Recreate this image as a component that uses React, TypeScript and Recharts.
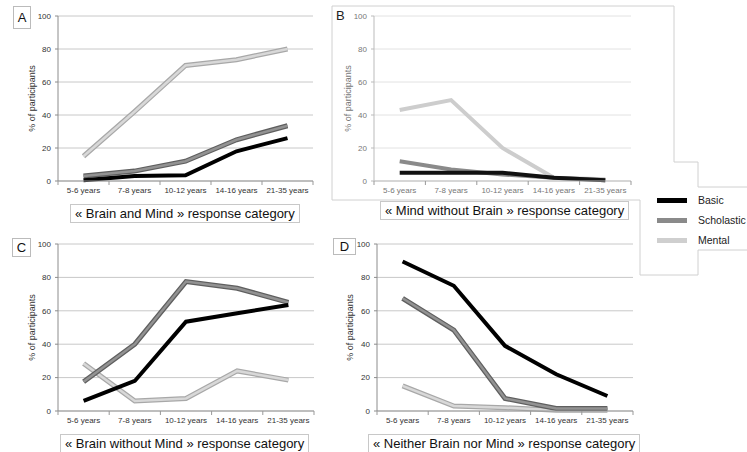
import React from "react";
import { LineChart, Line, XAxis, YAxis, CartesianGrid } from "recharts";

const ageGroups = ["5-6 years", "7-8 years", "10-12 years", "14-16 years", "21-35 years"];

// A: Brain and Mind
const brainMindBasic = [0.5, 3, 3.5, 18, 26];
const brainMindScholastic = [3, 6, 12, 25, 33.5];
const brainMindMental = [15, 42, 70, 73.5, 80];

// B: Mind without Brain
const mindOnlyBasic = [5, 5, 5, 2, 0.5];
const mindOnlyScholastic = [12, 7, 4, 2, 0.5];
const mindOnlyMental = [43, 49, 20, 2, 1];

// C: Brain without Mind
const brainOnlyBasic = [6, 18, 53.5, 58.5, 63.5];
const brainOnlyScholastic = [17.5, 40, 77.5, 73.5, 65];
const brainOnlyMental = [28.5, 6, 7.5, 24, 18.5];

// D: Neither Brain nor Mind
const neitherBasic = [89.5, 75, 39, 22, 9];
const neitherScholastic = [67.5, 48.5, 7.5, 1.5, 1.5];
const neitherMental = [15, 3, 2, 0.5, 0.5];

const yTicks = [0, 20, 40, 60, 80, 100];

const FONT = "'Liberation Sans', Arial, sans-serif";

const toRows = (basic: number[], scholastic: number[], mental: number[]) =>
  ageGroups.map((age, i) => ({ age, basic: basic[i], scholastic: scholastic[i], mental: mental[i] }));

function AgeTick(props: any) {
  const { x, y, payload, index, bw, color } = props;
  return (
    <g>
      <line x1={x - bw / 2} x2={x - bw / 2} y1={y - 6} y2={y - 2} stroke="#999" />
      {index === 4 && <line x1={x + bw / 2} x2={x + bw / 2} y1={y - 6} y2={y - 2} stroke="#999" />}
      <text x={x} y={y} dy="0.71em" textAnchor="middle" fontSize={8} fill={color} fontFamily={FONT}>
        {payload.value}
      </text>
    </g>
  );
}

type PanelProps = {
  data: any[];
  left: number;
  top: number;
  width: number;
  yw: number;
  right: number;
  bottom: number;
  labelX: number;
  faded?: boolean;
};

function Panel({ data, left, top, width, yw, right, bottom, labelX, faded }: PanelProps) {
  const bw = (width - yw - right) / 5;
  const text = faded ? "#777" : "#333";
  const grid = faded ? "#e2e2e2" : "#c8c8c8";
  return (
    <div style={{ position: "absolute", left, top }}>
      <LineChart width={width} height={205} data={data} margin={{ top: 16, right, bottom, left: 0 }}>
        <CartesianGrid vertical={false} stroke={grid} />
        <XAxis
          dataKey="age"
          interval={0}
          padding={{ left: bw / 2, right: bw / 2 }}
          height={20}
          tickSize={4}
          tickMargin={2}
          tickLine={false}
          stroke={faded ? "#bbb" : "#999"}
          tick={(p: any) => <AgeTick {...p} bw={bw} color={text} />}
        />
        <YAxis
          width={yw}
          domain={[0, 100]}
          ticks={yTicks}
          tickSize={3}
          tickMargin={4}
          stroke={faded ? "#bbb" : "#8c8c8c"}
          tick={{ fontSize: 8, fill: text, fontFamily: FONT }}
          label={{
            value: "% of participants",
            angle: -90,
            position: "insideLeft",
            offset: labelX,
            style: { textAnchor: "middle", fontSize: 9, fill: text, fontFamily: FONT },
          }}
        />
        {faded ? (
          [
            <Line key="m" dataKey="mental" stroke="#cdcdcd" strokeWidth={4} dot={false} isAnimationActive={false} />,
            <Line key="s" dataKey="scholastic" stroke="#8a8a8a" strokeWidth={4} dot={false} isAnimationActive={false} />,
            <Line key="b" dataKey="basic" stroke="#111" strokeWidth={4} dot={false} isAnimationActive={false} />,
          ]
        ) : (
          [
            <Line key="m1" dataKey="mental" stroke="#a8a8a8" strokeWidth={5} dot={false} isAnimationActive={false} />,
            <Line key="m2" dataKey="mental" stroke="#d8d8d8" strokeWidth={2.5} dot={false} isAnimationActive={false} />,
            <Line key="s1" dataKey="scholastic" stroke="#5f5f5f" strokeWidth={5} dot={false} isAnimationActive={false} />,
            <Line key="s2" dataKey="scholastic" stroke="#929292" strokeWidth={2.5} dot={false} isAnimationActive={false} />,
            <Line key="b" dataKey="basic" stroke="#000" strokeWidth={4} dot={false} isAnimationActive={false} />,
          ]
        )}
      </LineChart>
    </div>
  );
}

const captionStyle: React.CSSProperties = {
  position: "absolute",
  border: "1px solid #c8c8c8",
  background: "#fff",
  fontSize: 13,
  lineHeight: "17px",
  padding: "0 4px",
  whiteSpace: "nowrap",
  color: "#111",
};

const letterStyle: React.CSSProperties = {
  position: "absolute",
  border: "1px solid #bbb",
  fontSize: 13,
  textAlign: "center",
  color: "#111",
  background: "#fff",
};

export default function App() {
  return (
    <div
      style={{
        position: "absolute",
        left: 0,
        top: 0,
        width: 747,
        height: 452,
        overflow: "hidden",
        background: "#fff",
        fontFamily: FONT,
      }}
    >
      <svg width={747} height={452} style={{ position: "absolute", left: 0, top: 0 }}>
        <polyline
          points="332,200 332,6 674,6 674,162 698,162 698,187 747,187"
          fill="none"
          stroke="#d0d0d0"
        />
        <polyline
          points="332,200 640,200 640,275 698,275 698,250 747,250"
          fill="none"
          stroke="#d0d0d0"
        />
      </svg>

      <Panel data={toRows(brainMindBasic, brainMindScholastic, brainMindMental)} left={0} top={0} width={320} yw={58} right={7} bottom={4} labelX={32} />
      <Panel data={toRows(mindOnlyBasic, mindOnlyScholastic, mindOnlyMental)} left={330} top={0} width={303} yw={44} right={2} bottom={4} labelX={18} faded />
      <Panel data={toRows(brainOnlyBasic, brainOnlyScholastic, brainOnlyMental)} left={0} top={228} width={320} yw={58} right={6} bottom={2} labelX={32} />
      <Panel data={toRows(neitherBasic, neitherScholastic, neitherMental)} left={330} top={228} width={305} yw={47} right={2} bottom={2} labelX={20} />

      <div style={{ ...letterStyle, left: 13, top: 6, width: 16, height: 21, lineHeight: "21px" }}>A</div>
      <div style={{ position: "absolute", left: 336, top: 8, fontSize: 13, color: "#222" }}>B</div>
      <div style={{ ...letterStyle, left: 12, top: 238, width: 17, height: 17, lineHeight: "17px" }}>C</div>
      <div style={{ ...letterStyle, left: 333, top: 238, width: 21, height: 15, lineHeight: "15px" }}>D</div>

      <div style={{ ...captionStyle, left: 70, top: 204 }}>« Brain and Mind » response category</div>
      <div style={{ ...captionStyle, left: 380, top: 201 }}>« Mind without Brain » response category</div>
      <div style={{ ...captionStyle, left: 60, top: 434 }}>« Brain without Mind » response category</div>
      <div style={{ ...captionStyle, left: 368, top: 434 }}>« Neither Brain nor Mind » response category</div>

      <div style={{ position: "absolute", left: 657, top: 190, fontSize: 10.5, color: "#222" }}>
        {[
          { name: "Basic", color: "#000" },
          { name: "Scholastic", color: "#8a8a8a" },
          { name: "Mental", color: "#cfcfcf" },
        ].map((s) => (
          <div key={s.name} style={{ display: "flex", alignItems: "center", height: 20, whiteSpace: "nowrap" }}>
            <div style={{ width: 30, height: 5, background: s.color, marginRight: 11 }} />
            <span>{s.name}</span>
          </div>
        ))}
      </div>
    </div>
  );
}
